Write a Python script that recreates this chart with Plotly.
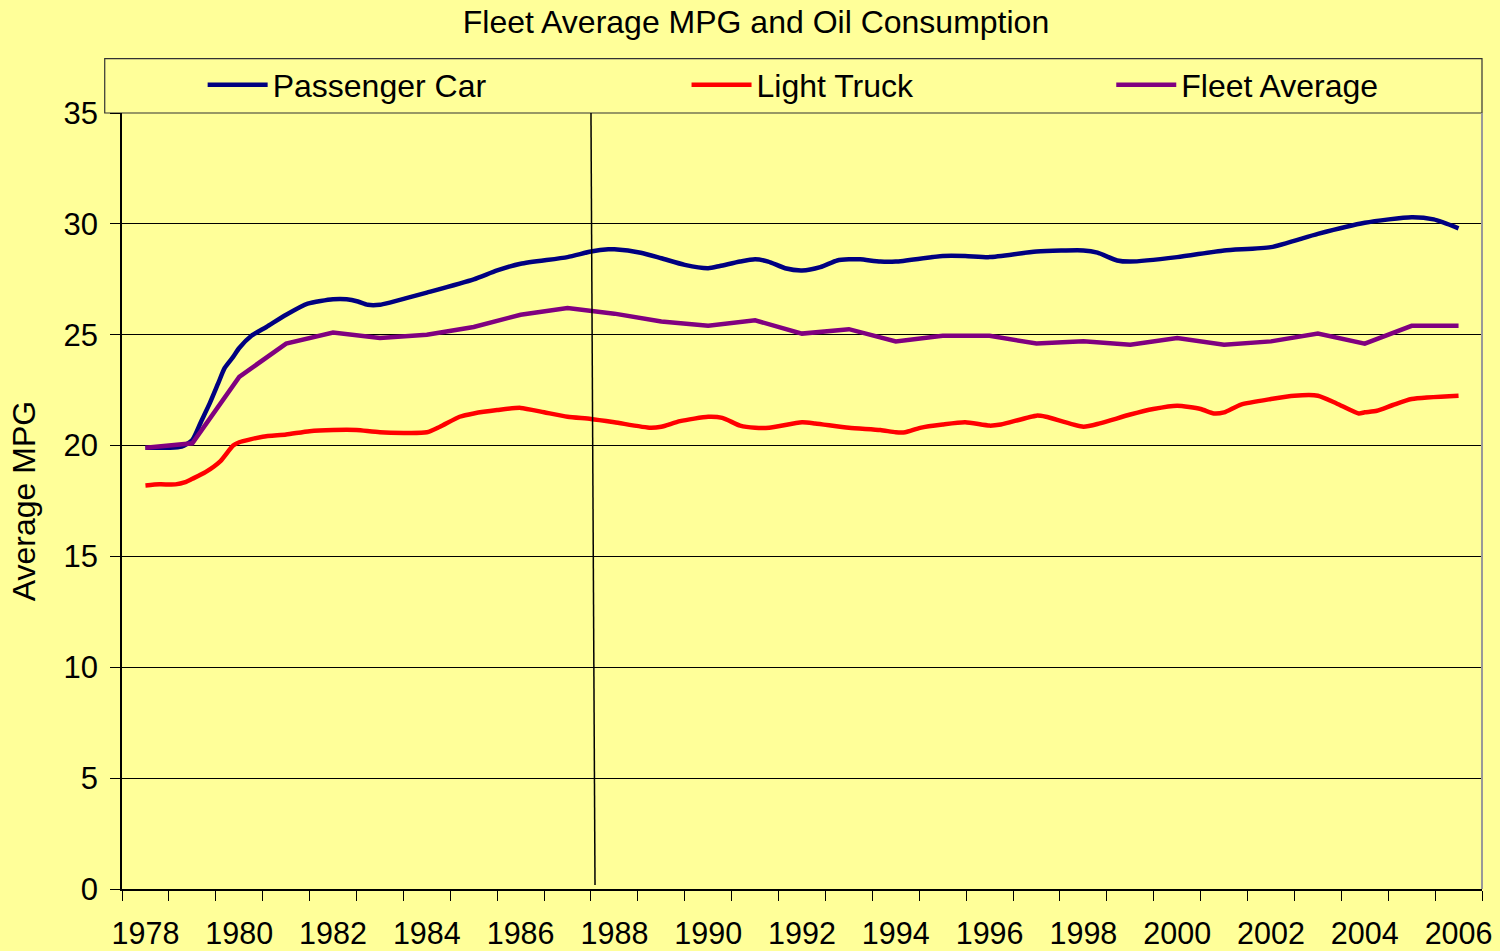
import plotly.graph_objects as go

# ---- data ----
car_years = [1978.0, 1978.5, 1978.77, 1979.0, 1979.19, 1979.37, 1979.55, 1979.69, 1979.87,
             1980.0, 1980.26, 1980.58, 1981.0, 1981.46, 1982.0, 1982.29, 1982.53, 1982.74,
             1983.0, 1983.21, 1984.0, 1985.0, 1985.5, 1986.0, 1987.0, 1987.5, 1987.87,
             1988.0, 1988.56, 1989.0, 1989.5, 1990.0, 1990.25, 1990.68, 1991.0, 1991.28,
             1991.64, 1992.0, 1992.39, 1992.75, 1993.0, 1993.24, 1993.67, 1994.0, 1995.0,
             1995.48, 1996.0, 1997.0, 1998.0, 1998.3, 1998.72, 1999.0, 2000.0, 2001.0,
             2002.0, 2003.0, 2004.0, 2005.0, 2005.47, 2006.0]
car_mpg = [19.9, 19.9, 19.95, 20.25, 21.1, 21.9, 22.8, 23.5, 24.0,
           24.4, 24.95, 25.35, 25.9, 26.4, 26.6, 26.6, 26.5, 26.35,
           26.35, 26.45, 26.9, 27.5, 27.9, 28.2, 28.5, 28.75, 28.85,
           28.85, 28.7, 28.45, 28.15, 28.0, 28.1, 28.3, 28.4, 28.3,
           28.0, 27.9, 28.05, 28.35, 28.4, 28.4, 28.3, 28.3, 28.55,
           28.55, 28.5, 28.75, 28.8, 28.7, 28.35, 28.3, 28.5, 28.8,
           28.95, 29.55, 30.05, 30.3, 30.2, 29.8]

truck_years = [1978.0, 1978.3, 1978.64, 1978.85, 1979.0, 1979.28, 1979.6, 1979.87, 1980.0,
               1980.5, 1981.0, 1981.5, 1982.0, 1982.5, 1983.0, 1984.0, 1984.28, 1984.7,
               1985.0, 1985.5, 1986.0, 1986.5, 1987.0, 1987.5, 1988.0, 1988.77, 1989.0,
               1989.4, 1990.0, 1990.3, 1990.68, 1991.0, 1991.3, 1992.0, 1992.28, 1993.0,
               1993.67, 1994.0, 1994.2, 1994.52, 1995.0, 1995.48, 1996.0, 1996.24, 1997.0,
               1997.2, 1998.0, 1998.35, 1999.0, 1999.49, 2000.0, 2000.5, 2000.78, 2001.0,
               2001.36, 2002.0, 2002.5, 2003.0, 2003.4, 2003.87, 2004.0, 2004.26, 2004.6,
               2005.0, 2006.0]
truck_mpg = [18.2, 18.25, 18.25, 18.35, 18.5, 18.8, 19.3, 20.0, 20.15,
             20.4, 20.5, 20.65, 20.7, 20.7, 20.6, 20.6, 20.85, 21.3,
             21.45, 21.6, 21.7, 21.5, 21.3, 21.2, 21.05, 20.8, 20.85,
             21.1, 21.3, 21.25, 20.9, 20.8, 20.8, 21.05, 21.0, 20.8,
             20.7, 20.6, 20.6, 20.8, 20.95, 21.05, 20.9, 20.95, 21.35,
             21.3, 20.85, 21.0, 21.4, 21.65, 21.8, 21.65, 21.45, 21.5,
             21.85, 22.1, 22.25, 22.25, 21.9, 21.45, 21.5, 21.57, 21.83,
             22.1, 22.25]

fleet_years = list(range(1978, 2007))
fleet_mpg = [19.9, 20.1, 23.1, 24.6, 25.1, 24.85, 25.0, 25.35, 25.9, 26.2,
             25.95, 25.6, 25.4, 25.65, 25.05, 25.25, 24.7, 24.95, 24.95, 24.6,
             24.7, 24.55, 24.85, 24.55, 24.7, 25.05, 24.6, 25.4, 25.4]

tick_years = list(range(1978, 2007, 2))
tick_labels = [str(y) for y in tick_years]
year_edges = [y - 0.5 for y in range(1978, 2008)]
y_ticks = [0, 5, 10, 15, 20, 25, 30, 35]

BG = "#FFFF99"
FONT = "Liberation Sans, Arial, sans-serif"

fig = go.Figure()
fig.add_trace(go.Scatter(x=car_years, y=car_mpg, mode="lines", name="Passenger Car",
                         line=dict(color="#000080", width=4.5, shape="spline", smoothing=0.6),
                         legend="legend"))
fig.add_trace(go.Scatter(x=truck_years, y=truck_mpg, mode="lines", name="Light Truck",
                         line=dict(color="#FF0000", width=4.5, shape="spline", smoothing=0.6),
                         legend="legend2"))
fig.add_trace(go.Scatter(x=fleet_years, y=fleet_mpg, mode="lines", name="Fleet Average",
                         line=dict(color="#800080", width=4.5),
                         legend="legend3"))

leg_common = dict(orientation="h", yanchor="middle", y=1.036, xanchor="left",
                  bgcolor="rgba(0,0,0,0)", borderwidth=0,
                  font=dict(family=FONT, size=32, color="black"), itemwidth=60)

fig.update_layout(
    width=1500, height=951,
    paper_bgcolor=BG, plot_bgcolor=BG,
    margin=dict(l=122, r=18, t=113, b=62),
    font=dict(family=FONT, color="black"),
    showlegend=True,
    title=dict(text="Fleet Average MPG and Oil Consumption",
               x=0.504, xanchor="center", y=1 - 22 / 951, yanchor="middle",
               font=dict(family=FONT, size=32, color="black")),
    legend=dict(x=0.0593, **leg_common),
    legend2=dict(x=0.4151, **leg_common),
    legend3=dict(x=0.7274, **leg_common),
    xaxis=dict(range=[1977.5, 2006.5], tickmode="array", tickvals=tick_years,
               ticktext=tick_labels, ticks="", showgrid=False, zeroline=False,
               showline=True, linecolor="black", linewidth=1.5, automargin=False,
               tickfont=dict(family=FONT, size=30.5, color="black"),
               ticklabelstandoff=17,
               minor=dict(tickmode="array", tickvals=year_edges, ticks="outside",
                          ticklen=10, tickwidth=1, tickcolor="black", showgrid=False)),
    yaxis=dict(range=[0, 35], tickmode="array", tickvals=y_ticks, ticks="outside",
               ticklen=10, tickwidth=1, tickcolor="black", automargin=False,
               showgrid=True, gridcolor="black", gridwidth=1, zeroline=False,
               showline=True, linecolor="black", linewidth=1.5,
               tickfont=dict(family=FONT, size=31, color="black"),
               ticklabelstandoff=6,
               title=dict(text="Average MPG", font=dict(family=FONT, size=32, color="black"),
                          standoff=18)),
    shapes=[
        # legend frame
        dict(type="rect", xref="paper", yref="paper", x0=-0.0127, x1=1.0, y0=1.0, y1=1.070,
             line=dict(color="#333333", width=1.2), fillcolor=BG, layer="below"),
        # right border of plot area
        dict(type="line", xref="paper", yref="paper", x0=1, x1=1, y0=0, y1=1,
             line=dict(color="#999999", width=2)),
        # divider line near 1988
        dict(type="line", xref="x", yref="y", x0=1987.5, y0=35, x1=1987.586, y1=0.18,
             line=dict(color="black", width=1.5)),
    ],
)

fig.write_html("out.html", config={"displayModeBar": False},
               post_script="document.body.style.margin='0';document.body.style.padding='0';"
                           "document.body.style.overflow='hidden';")
